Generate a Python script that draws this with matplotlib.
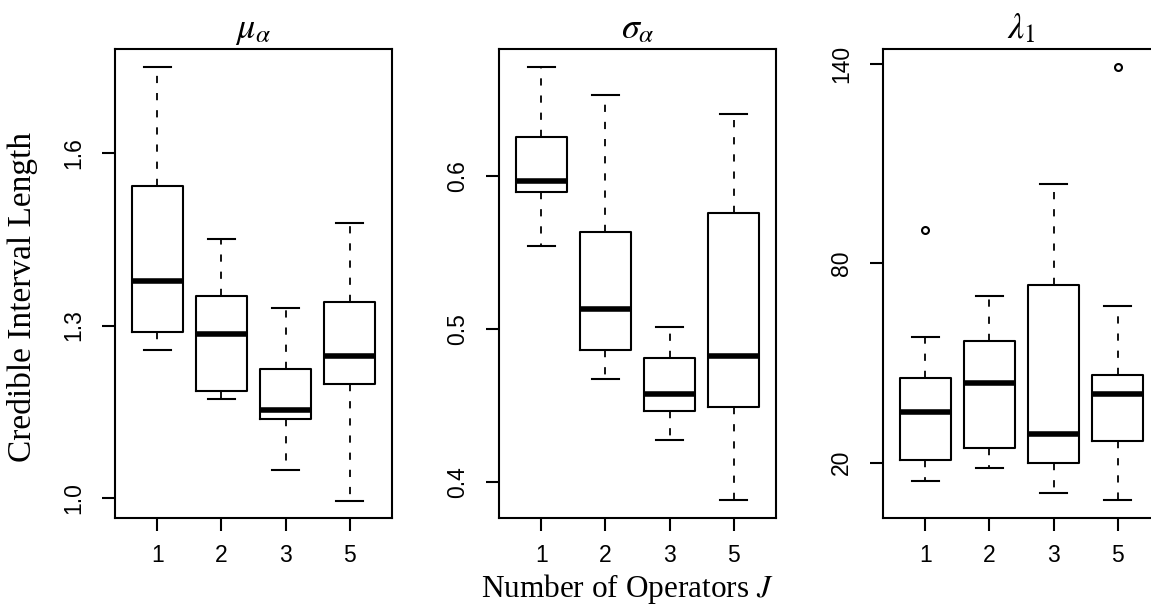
import matplotlib
matplotlib.use('Agg')
import matplotlib.pyplot as plt

# Number of operators (x categories)
groups = ['1', '2', '3', '5']

# Panel 1: mu_alpha
mu_whislo = [1.258, 1.172, 1.049, 0.996]
mu_q1 = [1.289, 1.187, 1.138, 1.199]
mu_med = [1.378, 1.285, 1.154, 1.247]
mu_q3 = [1.543, 1.351, 1.224, 1.341]
mu_whishi = [1.749, 1.450, 1.331, 1.478]
mu_fliers = [[], [], [], []]

# Panel 2: sigma_alpha
sig_whislo = [0.554, 0.4675, 0.4272, 0.388]
sig_q1 = [0.5897, 0.4863, 0.4463, 0.449]
sig_med = [0.5965, 0.513, 0.4577, 0.482]
sig_q3 = [0.6254, 0.5633, 0.4808, 0.5756]
sig_whishi = [0.6712, 0.6528, 0.5014, 0.6405]
sig_fliers = [[], [], [], []]

# Panel 3: lambda_1
lam_whislo = [14.4, 18.4, 10.8, 8.6]
lam_q1 = [20.7, 24.4, 20.0, 26.6]
lam_med = [35.2, 43.9, 28.5, 40.6]
lam_q3 = [45.3, 56.6, 73.5, 46.5]
lam_whishi = [57.8, 70.0, 103.9, 67.1]
lam_fliers = [[90.0], [], [], [139.2]]

titles = [r'$\mu_\alpha$', r'$\sigma_\alpha$', r'$\lambda_1$']
yticks = [[1.0, 1.3, 1.6], [0.4, 0.5, 0.6], [20, 80, 140]]
ytick_labels = [['1.0', '1.3', '1.6'], ['0.4', '0.5', '0.6'], ['20', '80', '140']]
ylims = [(0.966, 1.780), (0.3764, 0.6828), (3.3, 144.5)]

panels = [
    (mu_whislo, mu_q1, mu_med, mu_q3, mu_whishi, mu_fliers),
    (sig_whislo, sig_q1, sig_med, sig_q3, sig_whishi, sig_fliers),
    (lam_whislo, lam_q1, lam_med, lam_q3, lam_whishi, lam_fliers),
]

plt.rcParams['font.family'] = 'Liberation Sans'
plt.rcParams['mathtext.fontset'] = 'stix'

W, H = 1151, 605
fig = plt.figure(figsize=(W / 100, H / 100), dpi=100)

# axes placement in pixels (left edges, width, top, bottom)
lefts = [115, 499, 883]
ax_w = 277
ax_top, ax_bot = 49, 518

for k, (lo, q1, med, q3, hi, fl) in enumerate(panels):
    ax = fig.add_axes([lefts[k] / W, (H - ax_bot) / H, ax_w / W, (ax_bot - ax_top) / H])
    stats = []
    for i in range(len(groups)):
        stats.append(dict(whislo=lo[i], q1=q1[i], med=med[i], q3=q3[i],
                          whishi=hi[i], fliers=fl[i]))
    ax.bxp(stats, positions=range(1, len(groups) + 1), widths=0.8,
           showfliers=True, patch_artist=False,
           boxprops=dict(color='black', linewidth=1.5),
           medianprops=dict(color='black', linewidth=4, solid_capstyle='butt'),
           whiskerprops=dict(color='black', linewidth=1.3, linestyle=(0, (4, 5.5))),
           capprops=dict(color='black', linewidth=1.5),
           capwidths=0.42,
           flierprops=dict(marker='o', markersize=5, markerfacecolor='none',
                           markeredgecolor='black', markeredgewidth=1.5))
    ax.set_xlim(0.34, 4.66)
    ax.set_ylim(*ylims[k])
    ax.set_xticks(range(1, len(groups) + 1))
    ax.set_xticklabels(groups, fontsize=16.5)
    ax.set_yticks(yticks[k])
    ax.set_yticklabels(ytick_labels[k], fontsize=16.5, rotation=90, va='center')
    ax.tick_params(axis='both', length=9.5, width=1.5, direction='out')
    ax.tick_params(axis='x', pad=9)
    ax.tick_params(axis='y', pad=12)
    for s in ax.spines.values():
        s.set_linewidth(1.5)
    ax.set_title(titles[k], fontsize=26, pad=8)

fig.text(23 / W, 1 - 296.7 / H, 'Credible Interval Length', rotation=90,
         ha='center', va='center', family='Liberation Serif', fontsize=24)
fig.text(627.5 / W, 1 - 597 / H, r'Number of Operators $J$', ha='center',
         va='baseline', family='Liberation Serif', fontsize=22.5)

fig.savefig('out.png', dpi=100)
